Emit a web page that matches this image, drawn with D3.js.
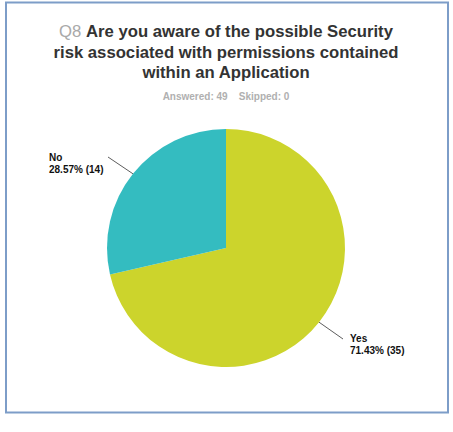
<!DOCTYPE html>
<html><head><meta charset="utf-8">
<script src="https://cdn.jsdelivr.net/npm/d3@7"></script>
<style>body{margin:0;background:#fff;} svg{display:block;}</style>
</head><body>
<svg id="c" width="453" height="432"></svg>
<script>
const categories = ["Yes", "No"];
const values = [35, 14];
const percents = ["71.43%", "28.57%"];
const colors = ["#ccd42c", "#34bcc0"];
const titleLines = ["Are you aware of the possible Security", "risk associated with permissions contained", "within an Application"];
const answered = 49, skipped = 0;

const svg = d3.select("#c");
svg.append("rect").attr("x", 6).attr("y", 2.5).attr("width", 442).attr("height", 410)
  .attr("fill", "#fff").attr("stroke", "#7d9dc8").attr("stroke-width", 2);

const cx = 226, cy = 248, r = 119;
const t = svg.append("text").attr("text-anchor", "middle")
  .attr("font-family", "Liberation Sans, Arial, sans-serif").attr("font-size", 16.7)
  .attr("font-weight", "bold").attr("fill", "#333");
titleLines.forEach((l, i) => {
  const ts = t.append("tspan").attr("x", cx).attr("y", 37 + i * 20.5);
  if (i === 0) ts.append("tspan").attr("fill", "#a9a9a9").attr("font-weight", "normal").text("Q8 ");
  ts.append("tspan").text(l);
});
svg.append("text").attr("x", cx).attr("y", 100).attr("text-anchor", "middle")
  .attr("font-family", "Liberation Sans, Arial, sans-serif").attr("font-size", 10)
  .attr("font-weight", "bold").attr("fill", "#b0b0b0")
  .attr("xml:space", "preserve")
  .text(`Answered: ${answered}    Skipped: ${skipped}`);

const pie = d3.pie().sort(null).value(d => d)(values);
const arc = d3.arc().innerRadius(0).outerRadius(r);
const g = svg.append("g").attr("transform", `translate(${cx},${cy})`);
g.selectAll("path").data(pie).join("path").attr("d", arc)
  .attr("fill", (d, i) => colors[i]);

// leaders and labels
const labelPos = [{x: 350, y: 342, lx: 343, ly: 339}, {x: 49, y: 161, lx: 108, ly: 157}];
pie.forEach((d, i) => {
  const mid = (d.startAngle + d.endAngle) / 2;
  const p = [Math.sin(mid) * r, -Math.cos(mid) * r];
  const lp = labelPos[i];
  svg.append("line").attr("x1", cx + p[0]).attr("y1", cy + p[1])
    .attr("x2", lp.lx).attr("y2", lp.ly).attr("stroke", "#333").attr("stroke-width", 0.8);
  const tx = svg.append("text").attr("font-family", "Liberation Sans, Arial, sans-serif")
    .attr("font-size", 10).attr("font-weight", "bold").attr("fill", "#111");
  tx.append("tspan").attr("x", lp.x).attr("y", lp.y).text(categories[i]);
  tx.append("tspan").attr("x", lp.x).attr("y", lp.y + 12).text(`${percents[i]} (${values[i]})`);
});
</script>
</body></html>
